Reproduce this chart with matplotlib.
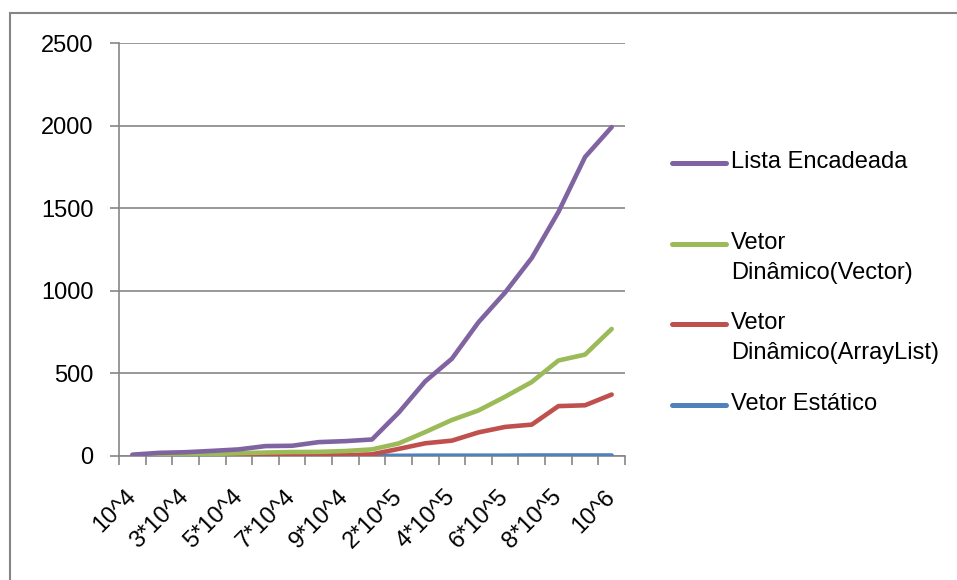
import numpy as np
import matplotlib
matplotlib.use('Agg')
import matplotlib.pyplot as plt
from matplotlib.lines import Line2D
from matplotlib.patches import Rectangle

plt.rcParams['font.family'] = ['Liberation Sans', 'DejaVu Sans']

# tamanhos de entrada (19 categorias, rotulo a cada duas)
tamanhos = ['10^4', '2*10^4', '3*10^4', '4*10^4', '5*10^4', '6*10^4', '7*10^4',
            '8*10^4', '9*10^4', '10^5', '2*10^5', '3*10^5', '4*10^5', '5*10^5',
            '6*10^5', '7*10^5', '8*10^5', '9*10^5', '10^6']

lista_encadeada = [8, 19, 23, 31, 40, 60, 62, 84, 90, 100, 262, 452, 589, 810,
                   990, 1199, 1477, 1810, 1991]
vetor_vector = [2, 4, 8, 12, 17, 21, 24, 25, 30, 40, 76, 145, 218, 276, 359,
                448, 578, 614, 769]
vetor_arraylist = [1, 1, 2, 2, 3, 3, 4, 4, 5, 10, 43, 77, 93, 143, 176, 190,
                   302, 307, 372]
vetor_estatico = [0, 0, 0, 0, 1, 1, 1, 1, 1, 1, 1, 2, 2, 2, 2, 3, 3, 3, 3]

series = [
    ('Vetor Estático', vetor_estatico, '#4F81BD'),
    ('Vetor\nDinâmico(ArrayList)', vetor_arraylist, '#C0504D'),
    ('Vetor\nDinâmico(Vector)', vetor_vector, '#9BBB59'),
    ('Lista Encadeada', lista_encadeada, '#8064A2'),
]

W, H = 957, 580
fig = plt.figure(figsize=(W / 100, H / 100), dpi=100)
ax = fig.add_axes([119 / W, 1 - 456 / H, (625 - 119) / W, (456 - 43) / H])

x = np.arange(len(tamanhos))
for nome, vals, cor in series:
    ax.plot(x, vals, color=cor, lw=3.3, solid_capstyle='round',
            solid_joinstyle='round', zorder=3)

cinza = '#868686'
ax.set_xlim(-0.5, len(tamanhos) - 0.5)
ax.set_ylim(0, 2500)
ax.set_yticks(range(0, 2501, 500))
ax.yaxis.grid(True, color=cinza, lw=1.2)
ax.set_axisbelow(True)
for s in ['top', 'right']:
    ax.spines[s].set_visible(False)
for s in ['left', 'bottom']:
    ax.spines[s].set_color(cinza)
    ax.spines[s].set_linewidth(1.2)

ax.set_xticks(x[::2])
ax.set_xticklabels(tamanhos[::2], rotation=45, ha='right', va='center',
                   rotation_mode='anchor')
ax.set_xticks(np.arange(-0.5, len(tamanhos)), minor=True)
ax.tick_params(axis='x', which='major', length=0, pad=27, labelsize=17)
ax.tick_params(axis='x', which='minor', length=6.5, width=1.2, color=cinza,
               direction='out')
ax.tick_params(axis='y', length=6.5, width=1.2, color=cinza, pad=12,
               labelsize=17)

# legenda a direita, com a linha alinhada a primeira linha do texto
leg_y = {'Lista Encadeada': 163, 'Vetor\nDinâmico(Vector)': 244,
         'Vetor\nDinâmico(ArrayList)': 324, 'Vetor Estático': 405}
for nome, vals, cor in series:
    yy = 1 - leg_y[nome] / H
    fig.add_artist(Line2D([672 / W, 726 / W], [yy, yy], color=cor, lw=3.6,
                          transform=fig.transFigure, solid_capstyle='round'))
    fig.text(731 / W, yy + 12 / H, nome, fontsize=17, va='top', ha='left',
             linespacing=1.5)

# moldura da area do grafico
fig.add_artist(Rectangle((10 / W, -0.2), 1.2, 1.2 - 13 / H, fill=False,
                         edgecolor=cinza, lw=1.5, transform=fig.transFigure))

fig.savefig('out.png', dpi=100)
